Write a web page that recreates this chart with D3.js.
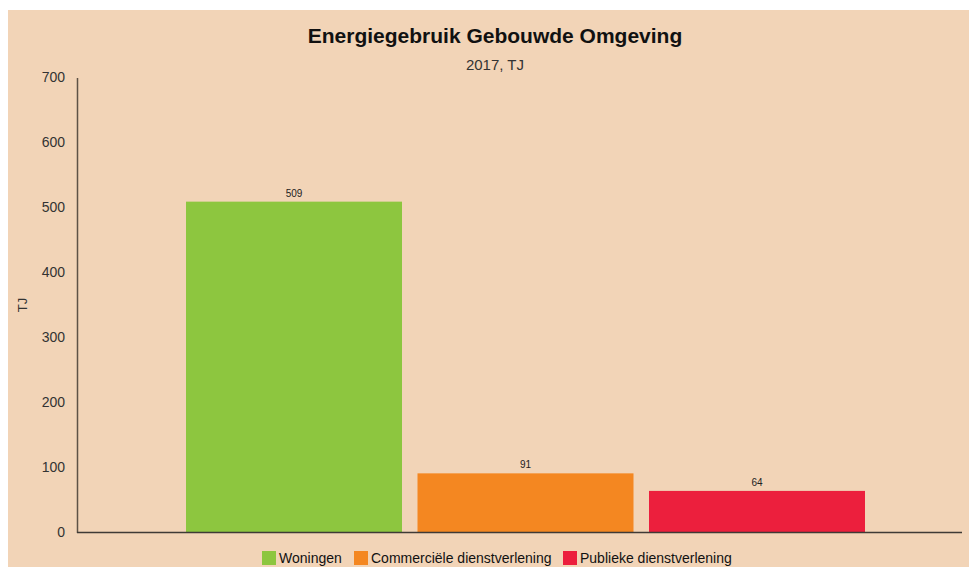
<!DOCTYPE html>
<html>
<head>
<meta charset="utf-8">
<script src="https://cdn.jsdelivr.net/npm/d3@7"></script>
<style>
  body { margin: 0; background: #ffffff; }
  svg { display: block; font-family: "Liberation Sans", Arial, sans-serif; }
</style>
</head>
<body>
<div id="chart"></div>
<script>
// data
var categories = ["Woningen", "Commerciële dienstverlening", "Publieke dienstverlening"];
var values = [509, 91, 64];
var colors = ["#8dc63f", "#f48721", "#ec1f3d"];
var yTicks = [0, 100, 200, 300, 400, 500, 600, 700];

var svgWidth = 972;
var svgHeight = 567;

var svg = d3.select("#chart")
  .append("svg")
  .attr("width", svgWidth)
  .attr("height", svgHeight);

// peach background
svg.append("rect")
  .attr("x", 8)
  .attr("y", 10)
  .attr("width", 961)
  .attr("height", 557)
  .attr("fill", "#f2d4b7");

// scales
var x = d3.scaleBand()
  .domain(categories)
  .range([186, 865])
  .paddingInner(0.067)
  .paddingOuter(0);

var y = d3.scaleLinear()
  .domain([0, 700])
  .range([532.5, 77.5]);

var color = d3.scaleOrdinal()
  .domain(categories)
  .range(colors);

// title
svg.append("text")
  .attr("x", 495)
  .attr("y", 43)
  .attr("text-anchor", "middle")
  .attr("font-size", "21px")
  .attr("font-weight", "bold")
  .attr("fill", "#111")
  .text("Energiegebruik Gebouwde Omgeving");

svg.append("text")
  .attr("x", 495)
  .attr("y", 70)
  .attr("text-anchor", "middle")
  .attr("font-size", "15px")
  .attr("fill", "#333")
  .text("2017, TJ");

// bars
svg.selectAll(".bar")
  .data(values)
  .enter()
  .append("rect")
  .attr("class", "bar")
  .attr("x", (d, i) => x(categories[i]))
  .attr("y", d => y(d))
  .attr("width", x.bandwidth())
  .attr("height", d => y(0) - y(d))
  .attr("fill", (d, i) => color(categories[i]));

// value labels
svg.selectAll(".val")
  .data(values)
  .enter()
  .append("text")
  .attr("class", "val")
  .attr("x", (d, i) => x(categories[i]) + x.bandwidth() / 2)
  .attr("y", d => y(d) - 5)
  .attr("text-anchor", "middle")
  .attr("font-size", "10px")
  .attr("fill", "#222")
  .text(d => d);

// y axis
var leftAxis = d3.axisLeft(y)
  .tickValues(yTicks)
  .tickSize(0)
  .tickPadding(12);

var yAxis = svg.append("g")
  .attr("transform", "translate(77,0)")
  .call(leftAxis);
yAxis.select(".domain").attr("stroke", "#5e5246").attr("stroke-width", 1.5);
yAxis.selectAll("text")
  .attr("font-size", "14px")
  .attr("fill", "#333")
  .attr("font-family", "Liberation Sans, Arial, sans-serif");

// x axis line
svg.append("line")
  .attr("x1", 77)
  .attr("x2", 962)
  .attr("y1", y(0))
  .attr("y2", y(0))
  .attr("stroke", "#3f3a36")
  .attr("stroke-width", 1.5);

// y axis label
svg.append("text")
  .attr("transform", "translate(27,305) rotate(-90)")
  .attr("text-anchor", "middle")
  .attr("font-size", "13px")
  .attr("fill", "#333")
  .text("TJ");

// legend
var legendX = [262, 354, 563];
var legend = svg.selectAll(".legend")
  .data(categories)
  .enter()
  .append("g")
  .attr("class", "legend")
  .attr("transform", (d, i) => `translate(${legendX[i]}, 551)`);

legend.append("rect")
  .attr("width", 14)
  .attr("height", 14)
  .attr("fill", d => color(d));

legend.append("text")
  .attr("x", 17)
  .attr("y", 12)
  .attr("font-size", "14px")
  .attr("fill", "#111")
  .text(d => d);
</script>
</body>
</html>
